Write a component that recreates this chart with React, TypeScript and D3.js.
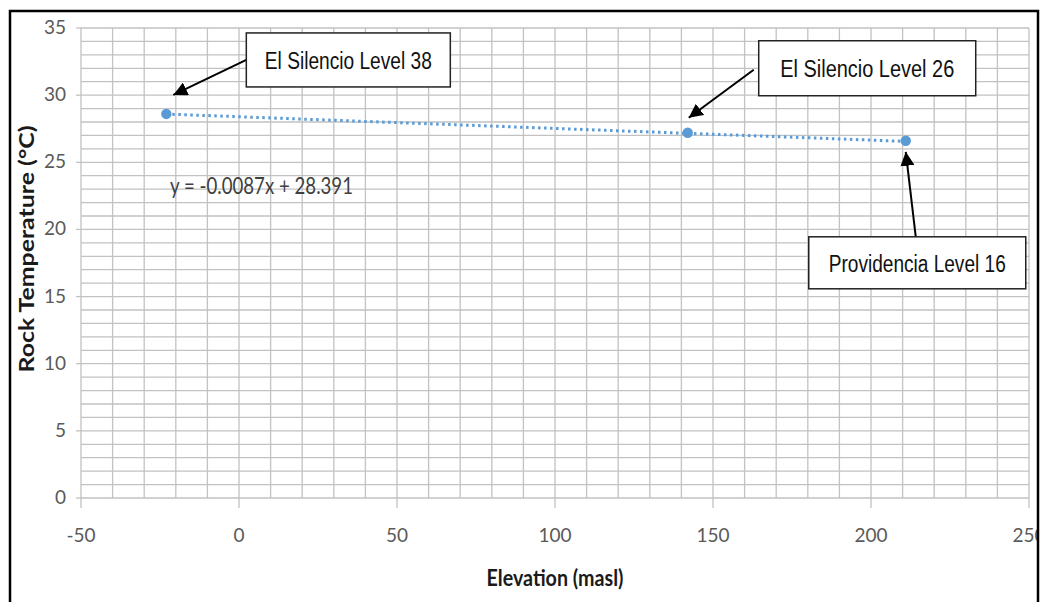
import React from "react";
import * as d3 from "d3";

// Rock temperature readings at three mine levels
const levels = ["El Silencio Level 38", "El Silencio Level 26", "Providencia Level 16"];
const elevations = [-23, 142, 211];
const temperatures = [28.6, 27.2, 26.6];

// Linear trend fitted to the readings
const trendSlope = -0.0087;
const trendIntercept = 28.391;

const xTicks = [-50, 0, 50, 100, 150, 200, 250];
const yTicks = [0, 5, 10, 15, 20, 25, 30, 35];

const W = 1041;
const H = 602;

const x = d3.scaleLinear().domain([-50, 250]).range([81, 1029]);
const y = d3.scaleLinear().domain([0, 35]).range([498, 28]);

// Callout boxes: pixel offsets relative to the point they label
const callouts = [
  { box: [80, -81, 204, 54], from: [80, -54], tip: [7, -19], textLen: 167 },
  { box: [71, -92, 217, 55], from: [66, -63], tip: [1, -15], textLen: 174 },
  { box: [-97, 96, 217, 52], from: [10, 96], tip: [0, 11], textLen: 177 },
];

const condensed = "Lato, 'Open Sans', sans-serif";

export default function App() {
  const vGrid = d3.range(-50, 251, 10);
  const hGrid = d3.range(0, 36, 1);
  const trendX = d3.extent(elevations) as [number, number];
  const trendLine = d3
    .line<number>()
    .x((d) => x(d))
    .y((d) => y(trendSlope * d + trendIntercept));

  return (
    <svg
      width={W}
      height={H}
      style={{ position: "absolute", left: 0, top: 0, background: "#fff" }}
    >
      <defs>
        <marker
          id="arrowHead"
          viewBox="0 0 10 10"
          refX={10}
          refY={5}
          markerWidth={7}
          markerHeight={7}
          markerUnits="strokeWidth"
          orient="auto"
        >
          <path d="M0,0 L10,5 L0,10 z" fill="#000" />
        </marker>
      </defs>

      {/* grid */}
      <g stroke="#c2c2c2" strokeWidth={1.3}>
        {hGrid.map((v) => (
          <line key={"h" + v} x1={x(-50)} x2={x(250)} y1={y(v)} y2={y(v)} />
        ))}
        {vGrid.map((v) => (
          <line key={"v" + v} x1={x(v)} x2={x(v)} y1={y(0)} y2={y(35)} />
        ))}
      </g>

      {/* tick marks */}
      <g stroke="#c2c2c2" strokeWidth={1.3}>
        {yTicks.map((v) => (
          <line key={"yt" + v} x1={x(-50) - 5} x2={x(-50)} y1={y(v)} y2={y(v)} />
        ))}
        {xTicks.map((v) => (
          <line key={"xt" + v} x1={x(v)} x2={x(v)} y1={y(0)} y2={y(0) + 10} />
        ))}
      </g>

      {/* tick labels */}
      <g fill="#5a5a5a" fontFamily={condensed} fontSize={19}>
        {yTicks.map((v) => (
          <text key={"yl" + v} x={66} y={y(v) + 6} textAnchor="end">
            {v}
          </text>
        ))}
        {xTicks.map((v) => (
          <text key={"xl" + v} x={x(v)} y={542} textAnchor="middle">
            {v}
          </text>
        ))}
      </g>

      {/* axis titles */}
      <text
        x={555}
        y={586}
        textAnchor="middle"
        fontFamily={condensed}
        fontWeight={700}
        fontSize={22}
        fill="#1a1a1a"
        textLength={137}
        lengthAdjust="spacingAndGlyphs"
      >
        Elevation (masl)
      </text>
      <text
        transform="translate(34,249) rotate(-90)"
        textAnchor="middle"
        fontFamily={condensed}
        fontWeight={700}
        fontSize={20}
        fill="#1a1a1a"
        textLength={247}
        lengthAdjust="spacingAndGlyphs"
      >
        Rock Temperature (°C)
      </text>

      {/* trend line */}
      <path
        d={trendLine(trendX) || ""}
        fill="none"
        stroke="#5b9bd5"
        strokeWidth={3}
        strokeDasharray="2.5 3.5"
      />

      {/* data points */}
      {elevations.map((e, i) => (
        <circle key={"p" + i} cx={x(e)} cy={y(temperatures[i])} r={5.2} fill="#5b9bd5" />
      ))}

      {/* trend equation */}
      <text
        x={170}
        y={194}
        fontFamily={condensed}
        fontSize={24}
        fill="#404040"
        textLength={183}
        lengthAdjust="spacingAndGlyphs"
      >
        {`y = ${trendSlope}x + ${trendIntercept}`}
      </text>

      {/* callouts */}
      {callouts.map((c, i) => {
        const px = x(elevations[i]);
        const py = y(temperatures[i]);
        const [bx, by, bw, bh] = c.box;
        return (
          <g key={"c" + i}>
            <line
              x1={px + c.from[0]}
              y1={py + c.from[1]}
              x2={px + c.tip[0]}
              y2={py + c.tip[1]}
              stroke="#000"
              strokeWidth={2}
              markerEnd="url(#arrowHead)"
            />
            <rect
              x={px + bx}
              y={py + by}
              width={bw}
              height={bh}
              fill="#fff"
              stroke="#222"
              strokeWidth={1.5}
            />
            <text
              x={px + bx + bw / 2}
              y={py + by + bh / 2 + 9}
              textAnchor="middle"
              fontFamily="'Liberation Sans', Arial, sans-serif"
              fontSize={23}
              fill="#111"
              textLength={c.textLen}
              lengthAdjust="spacingAndGlyphs"
            >
              {levels[i]}
            </text>
          </g>
        );
      })}

      {/* frame */}
      <rect x={1039} y={0} width={10} height={H} fill="#fff" />
      <path d={`M10,${H + 5} L10,11 L1038,11 L1038,${H + 5}`} fill="none" stroke="#000" strokeWidth={2.5} />
    </svg>
  );
}
